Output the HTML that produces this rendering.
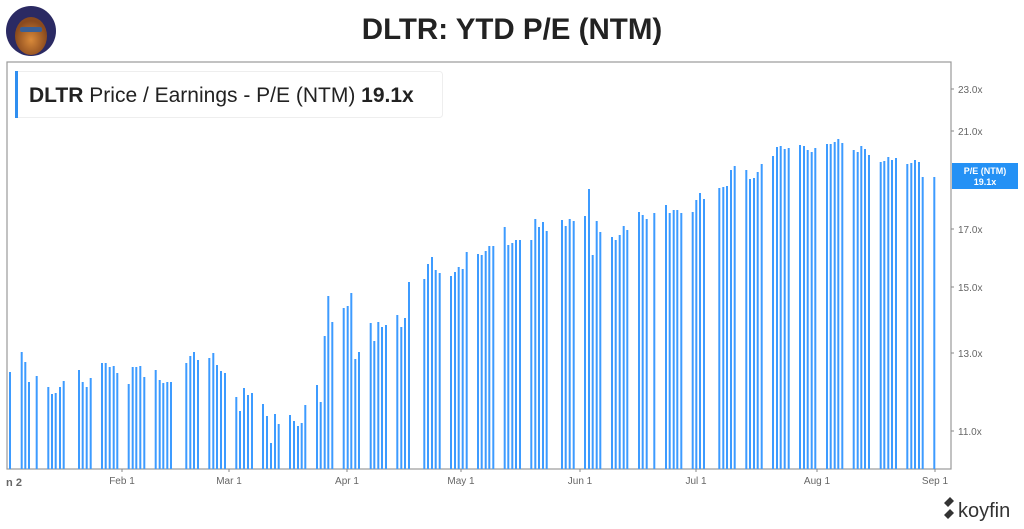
<!DOCTYPE html>
<html><head><meta charset="utf-8"><style>
html,body{margin:0;padding:0;background:#fff;width:1024px;height:529px;overflow:hidden}
svg text{font-family:"Liberation Sans",sans-serif}
</style></head><body>
<svg width="1024" height="529" viewBox="0 0 1024 529" xmlns="http://www.w3.org/2000/svg">
<defs><radialGradient id="g" cx="50%" cy="60%" r="50%"><stop offset="0" stop-color="#d98a3a"/><stop offset="1" stop-color="#8a4a1e"/></radialGradient></defs>
<circle cx="31" cy="31" r="25" fill="#2b2a63"/>
<ellipse cx="31" cy="36" rx="16" ry="19" fill="url(#g)"/>
<rect x="20" y="27" width="22" height="5" rx="2" fill="#3a5f95"/>
<text x="512" y="39" text-anchor="middle" font-size="29.5" font-weight="bold" fill="#222">DLTR: YTD P/E (NTM)</text>
<rect x="7" y="62" width="944" height="407" fill="none" stroke="#9a9a9a" stroke-width="1.2"/>
<rect x="15.5" y="71.5" width="427" height="46" rx="3" fill="#fff" stroke="#eee"/>
<rect x="15" y="71" width="3" height="47" fill="#2f8ef0"/>
<text x="29" y="102" font-size="21" fill="#222"><tspan font-weight="bold">DLTR</tspan> Price / Earnings - P/E (NTM) <tspan font-weight="bold">19.1x</tspan></text>
<g fill="#3d9bff" id="bars"></g>
<g font-size="10" fill="#666">
<text x="958" y="93">23.0x</text><text x="958" y="135">21.0x</text><text x="958" y="233">17.0x</text><text x="958" y="291">15.0x</text><text x="958" y="357">13.0x</text><text x="958" y="435">11.0x</text>
</g>
<g stroke="#888"><line x1="951" y1="89" x2="954" y2="89"/><line x1="951" y1="131" x2="954" y2="131"/><line x1="951" y1="229" x2="954" y2="229"/><line x1="951" y1="287" x2="954" y2="287"/><line x1="951" y1="353" x2="954" y2="353"/><line x1="951" y1="431" x2="954" y2="431"/></g>
<rect x="952" y="163" width="66" height="26" fill="#2491f5"/>
<text x="985" y="174" text-anchor="middle" font-size="9" font-weight="bold" fill="#fff">P/E (NTM)</text>
<text x="985" y="185" text-anchor="middle" font-size="9" font-weight="bold" fill="#fff">19.1x</text>
<g font-size="10" fill="#666" text-anchor="middle">
<text x="14" y="486" font-weight="bold" font-size="11">n 2</text>
<text x="122" y="484">Feb 1</text><text x="229" y="484">Mar 1</text><text x="347" y="484">Apr 1</text><text x="461" y="484">May 1</text><text x="580" y="484">Jun 1</text><text x="696" y="484">Jul 1</text><text x="817" y="484">Aug 1</text><text x="935" y="484">Sep 1</text>
</g>
<g stroke="#888"><line x1="122" y1="469" x2="122" y2="472"/><line x1="229" y1="469" x2="229" y2="472"/><line x1="347" y1="469" x2="347" y2="472"/><line x1="461" y1="469" x2="461" y2="472"/><line x1="580" y1="469" x2="580" y2="472"/><line x1="696" y1="469" x2="696" y2="472"/><line x1="817" y1="469" x2="817" y2="472"/><line x1="935" y1="469" x2="935" y2="472"/></g>
<path d="M944 503 l6 -6 l4 4 l-6 6 z M944 515 l6 -6 l4 4 l-6 6 z" fill="#333"/>
<text x="958" y="517" font-size="20" fill="#333">koyfin</text>
</svg>
<script>
var d=[[10,372],[21.7,352],[25.3,362],[29,382],[36.7,376],[48.3,387],[52,394],[55.7,393],[60,387],[63.7,381],[79,370],[82.7,382],[86.7,387],[90.7,378],[102,363],[105.7,363],[109.7,367],[113.7,366],[117.3,373],[128.7,384],[132.7,367],[136.3,367],[140.3,366],[144.3,377],[155.7,370],[159.7,380],[163.3,383],[167.3,382],[171,382],[186.3,363],[190.3,356],[194,352],[198,360],[209.3,358],[213.3,353],[217,365],[221,371],[225,373],[236.3,397],[240,411],[244,388],[248,395],[252,393],[263,404],[267,416],[271,443],[275,414],[278.7,424],[290,415],[294,421],[298,426],[301.7,423],[305.3,405],[317,385],[320.7,402],[324.7,336],[328.3,296],[332.3,322],[343.7,308],[347.7,306],[351.3,293],[355.3,359],[359,352],[370.7,323],[374.3,341],[378.3,322],[382,327],[386,325],[397.3,315],[401.3,327],[405,318],[409,282],[424.3,279],[428,264],[432,257],[435.7,270],[439.7,273],[451,276],[455,272],[458.7,267],[462.7,269],[466.7,252],[478,254],[481.7,255],[485.7,251],[489.3,246],[493.3,246],[504.7,227],[508.3,245],[512.3,243],[516,240],[520,240],[531.3,240],[535.3,219],[539,227],[543,222],[546.7,231],[562,220],[565.7,226],[569.7,219],[573.7,221],[585,216],[589,189],[592.7,255],[596.7,221],[600.3,232],[612,237],[615.7,240],[619.7,235],[623.7,226],[627.3,230],[639,212],[642.7,215],[646.7,219],[654.3,213],[666,205],[669.7,213],[673.7,210],[677.3,210],[681.3,213],[692.7,212],[696.3,200],[700,193],[704,199],[719.3,188],[723.3,187],[727,186],[731,170],[734.7,166],[746.3,170],[750,179],[754,178],[757.7,172],[761.7,164],[773,156],[777,147],[780.7,146],[784.7,149],[788.7,148],[800,145],[804,146],[807.7,150],[811.7,152],[815.3,148],[827,144],[830.7,144],[834.7,142],[838.3,139],[842.3,143],[853.7,150],[857.7,152],[861.3,146],[865,149],[869,155],[880.7,162],[884.3,161],[888.3,157],[892,160],[896,158],[907.3,164],[911.3,163],[915,160],[919,162],[922.7,177],[934.3,177]];
var g=document.getElementById('bars'),s='';
d.forEach(function(p){s+='<rect x="'+(p[0]-1).toFixed(1)+'" y="'+p[1]+'" width="2" height="'+(469-p[1])+'"/>';});
g.innerHTML=s;
</script>
</body></html>
